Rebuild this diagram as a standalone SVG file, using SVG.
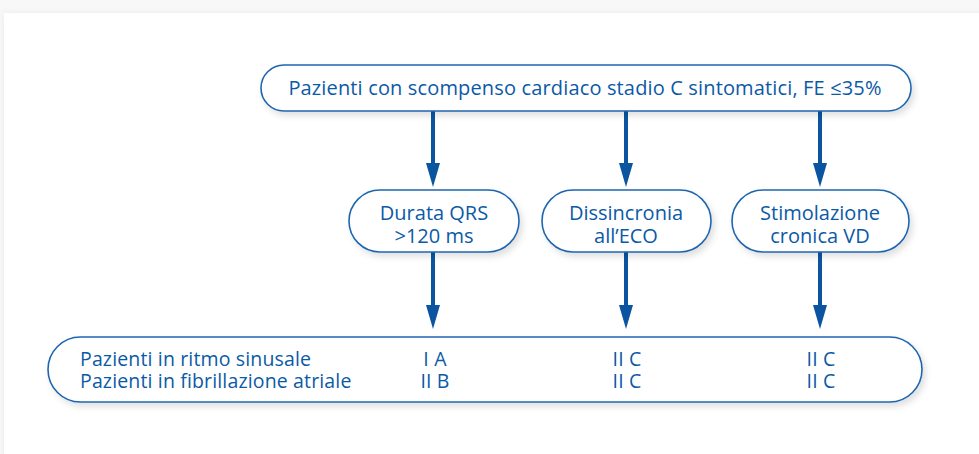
<svg xmlns="http://www.w3.org/2000/svg" width="979" height="454" viewBox="0 0 979 454">
  <defs>
    <filter id="sh" x="-10%" y="-30%" width="130%" height="180%">
      <feDropShadow dx="3" dy="4" stdDeviation="3" flood-color="#000" flood-opacity="0.12"/>
    </filter>
    <filter id="psh" x="-5%" y="-10%" width="110%" height="120%">
      <feDropShadow dx="0" dy="0" stdDeviation="3" flood-color="#000" flood-opacity="0.06"/>
    </filter>
    <style>
      .box { fill: #ffffff; stroke: #1f66b0; stroke-width: 1.6; filter: url(#sh); }
      .t { font-family: "Open Sans", "Liberation Sans", Arial, sans-serif; fill: #0b5aa6; }
      .top { font-size: 20px; letter-spacing: 0.15px; }
      .mid { font-size: 20px; }
      .bot { font-size: 19.5px; letter-spacing: 0.15px; }
      .arr { stroke: #0b55a0; stroke-width: 4; fill: none; }
      .head { fill: #0b55a0; }
    </style>
  </defs>
  <rect x="0" y="0" width="979" height="454" fill="#f8f8f8"/>
  <rect x="4" y="13" width="990" height="460" fill="#ffffff" filter="url(#psh)"/>

  <g id="connectors">
    <line class="arr" x1="433" y1="111" x2="433" y2="166"/>
    <path class="head" d="M426,163 L440,163 L433,187 Z"/>
    <line class="arr" x1="626" y1="111" x2="626" y2="166"/>
    <path class="head" d="M619,163 L633,163 L626,187 Z"/>
    <line class="arr" x1="820" y1="111" x2="820" y2="166"/>
    <path class="head" d="M813,163 L827,163 L820,187 Z"/>

    <line class="arr" x1="433" y1="252" x2="433" y2="308"/>
    <path class="head" d="M426,305 L440,305 L433,329 Z"/>
    <line class="arr" x1="626" y1="252" x2="626" y2="308"/>
    <path class="head" d="M619,305 L633,305 L626,329 Z"/>
    <line class="arr" x1="820" y1="252" x2="820" y2="308"/>
    <path class="head" d="M813,305 L827,305 L820,329 Z"/>
  </g>

  <g id="top">
    <rect class="box" x="261" y="65" width="650" height="46" rx="23" ry="23"/>
    <text class="t top" x="585" y="95" text-anchor="middle">Pazienti con scompenso cardiaco stadio C sintomatici, FE ≤35%</text>
  </g>

  <g id="qrs">
    <rect class="box" x="349" y="190" width="170" height="62" rx="31" ry="31"/>
    <text class="t mid" x="434" y="220" text-anchor="middle">Durata QRS</text>
    <text class="t mid" x="434" y="243" text-anchor="middle">&gt;120 ms</text>
  </g>

  <g id="eco">
    <rect class="box" x="542" y="190" width="169" height="62" rx="31" ry="31"/>
    <text class="t mid" x="626" y="220" text-anchor="middle">Dissincronia</text>
    <text class="t mid" x="626" y="243" text-anchor="middle">all’ECO</text>
  </g>

  <g id="vd">
    <rect class="box" x="732" y="190" width="177" height="62" rx="31" ry="31"/>
    <text class="t mid" x="820" y="220" text-anchor="middle">Stimolazione</text>
    <text class="t mid" x="820" y="243" text-anchor="middle">cronica VD</text>
  </g>

  <g id="bottom">
    <rect class="box" x="48" y="337" width="874" height="65" rx="32.5" ry="32.5"/>
    <text class="t bot" x="80" y="365.5">Pazienti in ritmo sinusale</text>
    <text class="t bot" x="80" y="387.5">Pazienti in fibrillazione atriale</text>
    <text class="t bot" x="435" y="365.5" text-anchor="middle">I A</text>
    <text class="t bot" x="435" y="387.5" text-anchor="middle">II B</text>
    <text class="t bot" x="627" y="365.5" text-anchor="middle">II C</text>
    <text class="t bot" x="627" y="387.5" text-anchor="middle">II C</text>
    <text class="t bot" x="821" y="365.5" text-anchor="middle">II C</text>
    <text class="t bot" x="821" y="387.5" text-anchor="middle">II C</text>
  </g>
</svg>
